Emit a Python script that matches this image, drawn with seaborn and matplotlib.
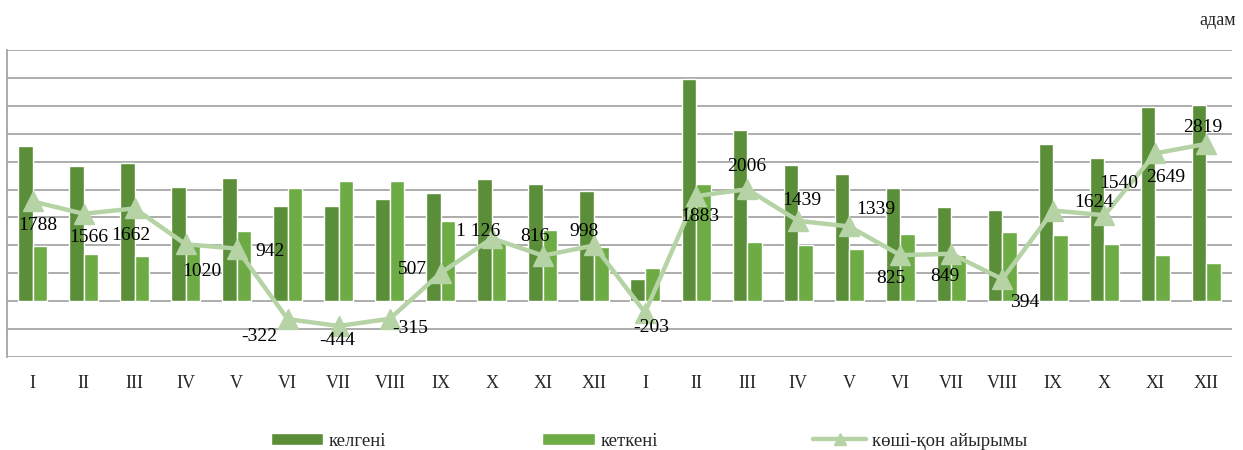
import numpy as np
import pandas as pd
import matplotlib
matplotlib.use("Agg")
import matplotlib.pyplot as plt
from matplotlib.lines import Line2D
import seaborn as sns

# ---------------------------------------------------------------------------
# Деректер (екі жыл, айлар бойынша)
# ---------------------------------------------------------------------------
months = ["I", "II", "III", "IV", "V", "VI", "VII", "VIII", "IX", "X", "XI", "XII"] * 2

kelgeni = [2785, 2415, 2475, 2050, 2205, 1709, 1709, 1835, 1935, 2193, 2095, 1972,
           395, 3985, 3070, 2445, 2277, 2032, 1680, 1637, 2813, 2568, 3480, 3506]
ketkeni = [997, 849, 813, 1030, 1263, 2031, 2153, 2150, 1428, 1067, 1279, 974,
           598, 2102, 1064, 1006, 938, 1207, 831, 1243, 1189, 1028, 831, 687]
ayirymy = [1788, 1566, 1662, 1020, 942, -322, -444, -315, 507, 1126, 816, 998,
           -203, 1883, 2006, 1439, 1339, 825, 849, 394, 1624, 1540, 2649, 2819]
ayirymy_labels = ["1788", "1566", "1662", "1020", "942", "-322", "-444", "-315", "507", "1 126", "816", "998",
                  "-203", "1883", "2006", "1439", "1339", "825", "849", "394", "1624", "1540", "2649", "2819"]

# жазулардың нүктеден ығысуы (пиксель, оң жақ / жоғары)
label_offsets = [(5, -24), (5, -24), (-4, -27), (16, -27), (33, -3), (-28, -17), (-2, -15), (20, -10),
                 (-28, 3), (-14, 7), (-8, 19), (-10, 14), (6, -15), (4, -20), (0, 23), (4, 20),
                 (27, 17), (-9, -23), (-6, -23), (22, -23), (40, 8), (14, 32), (10, -24), (-4, 16)]

DARK = "#5A8E38"
LIGHT = "#6DAB45"
LINE = "#B5D3A5"
GRID = "#A6A6A6"

sns.set_style("white")
plt.rcParams["font.family"] = ["Liberation Serif", "DejaVu Serif"]

idx = list(range(len(months)))
df = pd.DataFrame({
    "idx": idx * 2,
    "value": kelgeni + ketkeni,
    "series": ["келгені"] * len(idx) + ["кеткені"] * len(idx),
})

fig = plt.figure(figsize=(12.43, 4.5), dpi=100)
ax = fig.add_axes([7 / 1243, 93 / 450, 1225 / 1243, 307 / 450])

sns.barplot(data=df, x="idx", y="value", hue="series", palette=[DARK, LIGHT],
            width=0.57, gap=0, saturation=1, ax=ax, legend=True, zorder=2)

ax.plot(idx, ayirymy, color=LINE, lw=3.2, marker="^", markersize=14,
        zorder=3, solid_capstyle="round")

for i, (v, lab, off) in enumerate(zip(ayirymy, ayirymy_labels, label_offsets)):
    ax.annotate(lab, (i, v), xytext=off, textcoords="offset pixels",
                ha="center", va="center", fontsize=14, color="black", zorder=4)

ax.set_xlim(-0.5, len(idx) - 0.5)
ax.set_ylim(-1000, 4500)
ax.set_yticks(np.arange(-1000, 4501, 500))
ax.set_yticklabels([])
ax.set_xticks(idx)
ax.set_xticklabels(months, fontsize=13)
ax.tick_params(axis="both", length=0)
ax.tick_params(axis="x", pad=13)
ax.set_xlabel("")
ax.set_ylabel("")
ax.set_axisbelow(True)
ax.yaxis.grid(True, color=GRID, lw=1.3)
for side in ["top", "right", "bottom"]:
    ax.spines[side].set_visible(False)
ax.spines["left"].set_color(GRID)
ax.spines["left"].set_linewidth(1.3)

handles, labels = ax.get_legend_handles_labels()
ax.legend_.remove()
handles.append(Line2D([], [], color=LINE, lw=3.2, marker="^", markersize=9))
labels.append("көші-қон айырымы")
fig.legend(handles, labels, loc="center", bbox_to_anchor=(0.522, 0.02), ncol=3,
           frameon=False, fontsize=13.5, handlelength=2.8, handleheight=0.6,
           columnspacing=8.3, handletextpad=0.3)

fig.text(0.994, 0.955, "адам", ha="right", va="center", fontsize=13)

fig.savefig("out.png", dpi=100)
